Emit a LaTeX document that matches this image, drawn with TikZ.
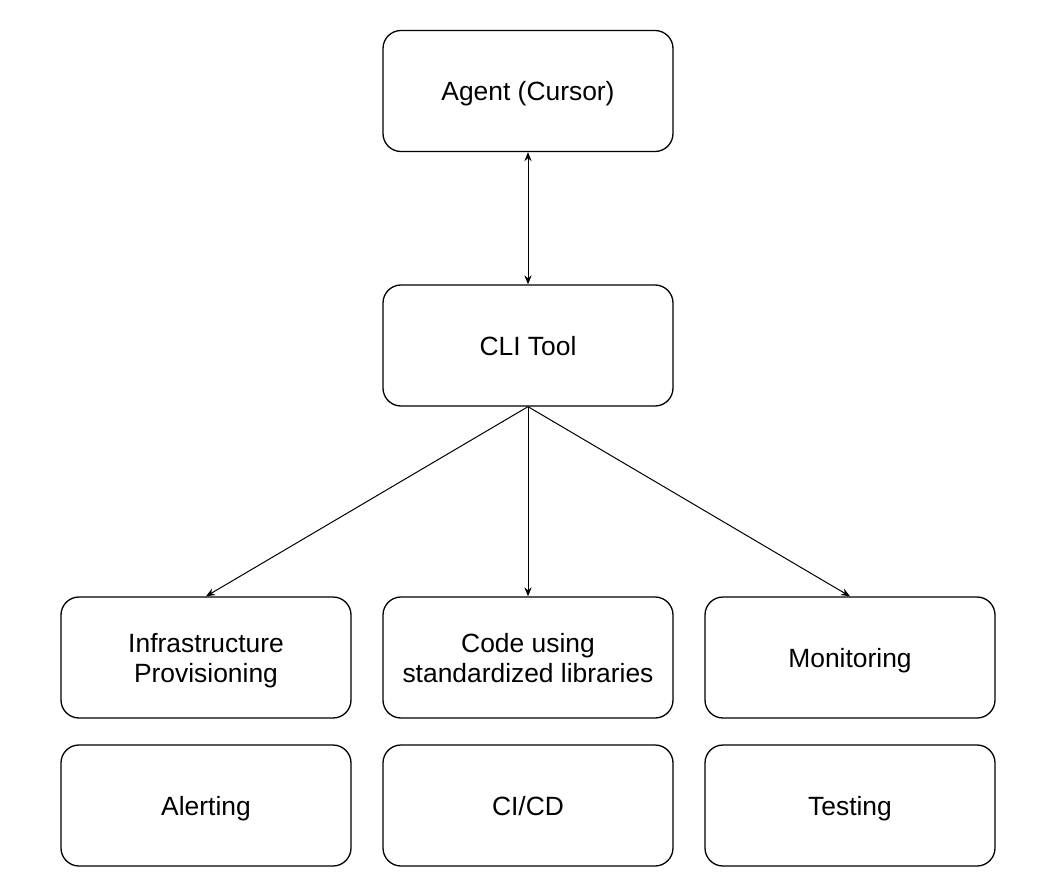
\documentclass[tikz,border=0pt]{standalone}
\usepackage{fontspec}
\setmainfont{Liberation Sans}
\usetikzlibrary{arrows.meta}

\begin{document}
\begin{tikzpicture}[x=0.5pt, y=-0.5pt,
    box/.style={draw, line width=0.65pt, rounded corners=9pt, fill=white,
      minimum width=145pt, minimum height=60.5pt, align=center,
      font=\fontsize{13.2}{15}\selectfont, inner sep=0pt, text depth=0pt},
    link/.style={line width=0.5pt, -{Stealth[length=4.5pt, width=3.6pt]}}]
  % Page frame
  \useasboundingbox (0,0) rectangle (1046,894);

  % Top: agent and tool
  \node[box] (agent) at (528,91) {Agent (Cursor)};
  \node[box] (cli) at (528,345.5) {CLI Tool};

  % First row
  \node[box] (infra) at (206,657.5) {Infrastructure\\Provisioning};
  \node[box] (code) at (528,657.5) {Code using\\standardized libraries};
  \node[box] (monit) at (850,657.5) {Monitoring};

  % Second row
  \node[box] (alert) at (206,805.5) {Alerting};
  \node[box] (cicd) at (528,805.5) {CI/CD};
  \node[box] (test) at (850,805.5) {Testing};

  % Links
  \draw[link, {Stealth[length=4.5pt, width=3.6pt]}-{Stealth[length=4.5pt, width=3.6pt]}] (cli.north) -- (agent.south);
  \draw[link] (cli.south) -- (infra.north);
  \draw[link] (cli.south) -- (code.north);
  \draw[link] (cli.south) -- (monit.north);
\end{tikzpicture}
\end{document}
